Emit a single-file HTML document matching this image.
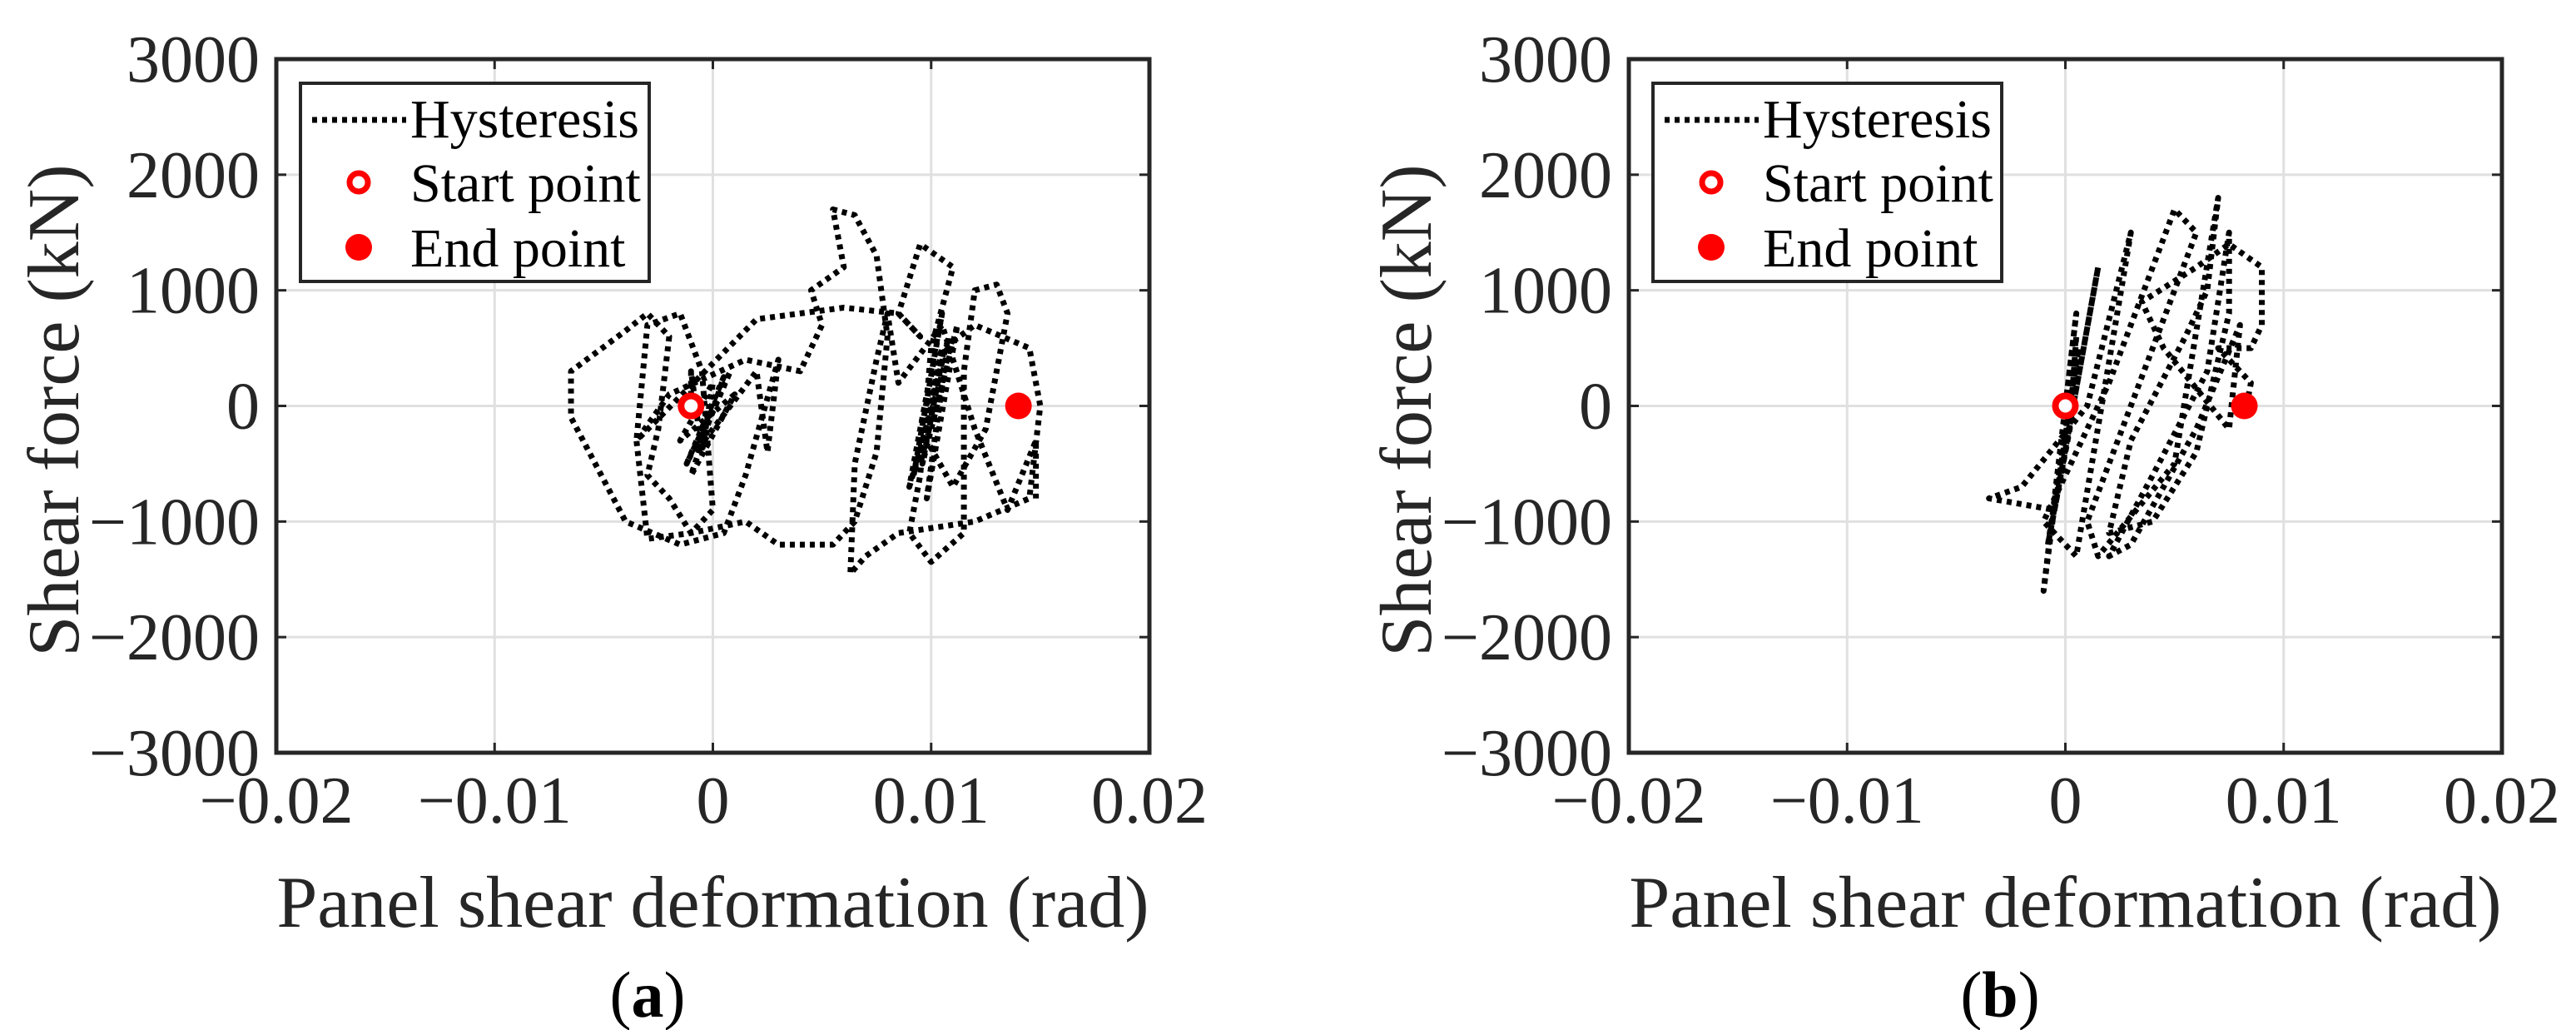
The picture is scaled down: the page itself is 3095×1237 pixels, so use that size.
<!DOCTYPE html>
<html><head><meta charset="utf-8"><style>
html,body{margin:0;padding:0;background:#fff;}
svg{display:block;font-family:"Liberation Serif",serif;}
</style></head><body>
<svg id="fig" width="3095" height="1237" viewBox="0 0 3095 1237" xmlns="http://www.w3.org/2000/svg"></svg>
<script>
const xTicks=[-0.02,-0.01,0,0.01,0.02];
const xTickLabels=["\u22120.02","\u22120.01","0","0.01","0.02"];
const yTicks=[3000,2000,1000,0,-1000,-2000,-3000];
const yTickLabels=["3000","2000","1000","0","\u22121000","\u22122000","\u22123000"];
const aX=[-0.001,-0.001,-0.0005,0,-0.0015,0.001,-0.001,0.0005,-0.0012,0.0008,-0.0008,0.002,0.0025,0.003,0.0015,0.0005,-0.0015,-0.004,-0.0065,-0.0065,-0.004,-0.003,-0.002,-0.0025,-0.003,-0.002,-0.001,0,-0.0005,-0.0015,-0.003,-0.0035,-0.002,0.0015,0.004,0.005,0.0045,0.006,0.0055,0.0065,0.0075,0.008,0.0075,0.0065,0.0055,0.003,0.0015,-0.001,-0.003,-0.0035,0.002,0.006,0.0085,0.0095,0.0085,0.0095,0.011,0.01,0.0095,0.009,0.01,0.0115,0.0115,0.012,0.013,0.0135,0.0125,0.011,0.0095,0.0105,0.0095,0.011,0.009,0.0105,0.0092,0.0108,0.0098,0.0112,0.0096,0.0106,0.012,0.0145,0.015,0.0145,0.012,0.0085,0.007,0.0063,0.0065,0.0075,0.008,0.0085,0.0105,0.012,0.0135,0.0148,0.0148];
const aY=[0,300,-400,200,-300,100,-600,250,-500,300,-400,300,-400,400,-600,-1100,-1200,-1000,-100,300,650,800,600,-200,-600,-800,-1100,-900,300,800,700,-300,100,400,300,700,1000,1200,1700,1650,1300,600,-400,-1000,-1200,-1200,-1000,-1100,-1150,-300,750,850,800,600,800,1400,1200,500,-600,-1100,-1350,-1100,300,1000,1050,800,-200,-700,-200,500,-500,600,-700,800,-600,600,-800,700,-500,500,700,500,0,-800,-1000,-1100,-1300,-1450,-500,400,800,200,700,-200,-900,-300,-800];
const aStart=[-0.001,0], aEnd=[0.014,0];
const bX=[0,0.0005,-0.001,0.0005,0.0002,-0.0008,0.0006,-0.0005,0.0015,-0.0005,-0.0035,-0.002,0.001,0.003,0.0005,-0.001,0.002,0.005,0.006,0.003,0.001,0.0015,0.005,0.007,0.0065,0.0055,0.003,0.002,0.004,0.006,0.0075,0.0075,0.0065,0.004,0.002,0.003,0.006,0.008,0.0075,0.0045,0.0035,0.006,0.0075,0.009,0.009,0.0085,0.007,0.0085,0.0083];
const bY=[0,800,-1600,600,-200,-1200,500,-900,1200,-900,-800,-700,0,1500,-1300,-1000,200,1700,1500,0,-1000,-1300,-500,1800,1000,600,-300,-1100,-1000,-400,800,1500,300,-600,-1300,-1200,-200,700,-200,500,900,1200,1400,1200,700,500,500,200,0];
const bStart=[0,0], bEnd=[0.0082,0];

const NS="http://www.w3.org/2000/svg";
const svg=document.getElementById('fig');
function mk(tag,attrs,parent,text){const e=document.createElementNS(NS,tag);for(const k in attrs)e.setAttribute(k,attrs[k]);if(text!==undefined)e.textContent=text;(parent||svg).appendChild(e);return e;}

function panel(ox,xs,ys,st,en,letter){
  const L=ox,T=71,W=1049,H=833;
  const X=v=>L+(v+0.02)/0.04*W;
  const Y=v=>T+(3000-v)/6000*H;
  const g=mk('g',{});
  
  
  mk('rect',{x:L,y:T,width:W,height:H,fill:'#fff'},g);
  xTicks.forEach((t,i)=>{
    const gl=mk('line',{x1:X(t),x2:X(t),y1:T,y2:T+H,stroke:'#e0e0e0','stroke-width':3},g);
    
    
    mk('line',{x1:X(t),x2:X(t),y1:T+H,y2:T+H-12,stroke:'#262626','stroke-width':3},g);
    mk('line',{x1:X(t),x2:X(t),y1:T,y2:T+12,stroke:'#262626','stroke-width':3},g);
    const tl=mk('text',{x:X(t),y:T+H+84,'font-size':80,'text-anchor':'middle',fill:'#262626'},g,xTickLabels[i]);
    
    
  });
  yTicks.forEach((t,i)=>{
    const gl=mk('line',{x1:L,x2:L+W,y1:Y(t),y2:Y(t),stroke:'#e0e0e0','stroke-width':3},g);
    
    
    mk('line',{x1:L,x2:L+12,y1:Y(t),y2:Y(t),stroke:'#262626','stroke-width':3},g);
    mk('line',{x1:L+W,x2:L+W-12,y1:Y(t),y2:Y(t),stroke:'#262626','stroke-width':3},g);
    const tl=mk('text',{x:L-20,y:Y(t)+27,'font-size':80,'text-anchor':'end',fill:'#262626'},g,yTickLabels[i]);
    
    
  });
  const pts=xs.map((v,i)=>X(v)+','+Y(ys[i])).join(' ');
  const pl=mk('polyline',{points:pts,fill:'none',stroke:'#000','stroke-width':7,'stroke-dasharray':'6 6','stroke-linejoin':'round'},g);
  
  
  const s=mk('circle',{cx:X(st[0]),cy:Y(st[1]),r:12,fill:'#fff',stroke:'#f00','stroke-width':8},g);
  
  
  const e=mk('circle',{cx:X(en[0]),cy:Y(en[1]),r:16,fill:'#f00'},g);
  
  
  mk('rect',{x:L,y:T,width:W,height:H,fill:'none',stroke:'#262626','stroke-width':5},g);
  const lg=mk('g',{},g);
  
  
  const lx=L+29;
  mk('rect',{x:lx,y:100,width:419,height:238,fill:'#fff',stroke:'#262626','stroke-width':4},lg);
  mk('line',{x1:lx+14,x2:lx+127,y1:144,y2:144,stroke:'#000','stroke-width':7,'stroke-dasharray':'6 6'},lg);
  const t1=mk('text',{x:lx+132,y:165,'font-size':66,fill:'#000'},lg,'Hysteresis');
  
  
  mk('circle',{cx:lx+70,cy:219,r:11,fill:'#fff',stroke:'#f00','stroke-width':7},lg);
  const t2=mk('text',{x:lx+132,y:242,'font-size':66,fill:'#000'},lg,'Start point');
  
  
  mk('circle',{cx:lx+70,cy:297,r:16,fill:'#f00'},lg);
  const t3=mk('text',{x:lx+132,y:320,'font-size':66,fill:'#000'},lg,'End point');
  
  
  const xl=mk('text',{x:L+W/2,y:1113,'font-size':88,'text-anchor':'middle',fill:'#262626'},g,'Panel shear deformation (rad)');
  
  
  const yl=mk('text',{x:0,y:0,'font-size':88,'text-anchor':'middle',fill:'#262626',transform:`translate(${L-238},493) rotate(-90)`},g,'Shear force (kN)');
  
  
  const cap=mk('text',{x:L+446,y:1221,'font-size':78,'text-anchor':'middle',fill:'#000'},g);
  
  
  mk('tspan',{},cap,'(');
  mk('tspan',{'font-weight':'bold'},cap,letter);
  mk('tspan',{},cap,')');
}
panel(332,aX,aY,aStart,aEnd,'a');
panel(1957,bX,bY,bStart,bEnd,'b');
</script>
</body></html>
